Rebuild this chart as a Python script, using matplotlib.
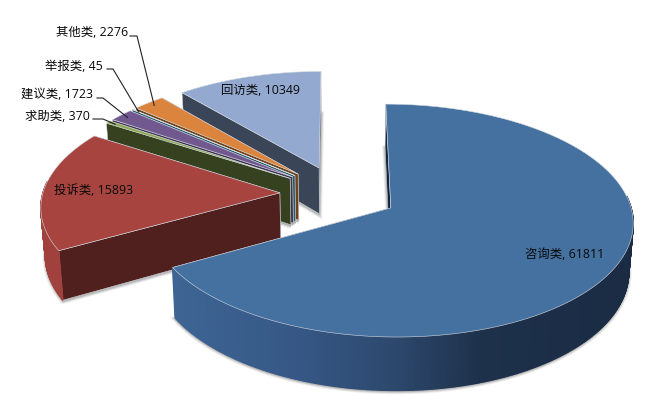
import numpy as np
import matplotlib
matplotlib.use('Agg')
import matplotlib.pyplot as plt
from matplotlib.patches import Polygon
from matplotlib.colors import to_rgb

plt.rcParams['font.family'] = ['Open Sans', 'Noto Sans CJK SC', 'DejaVu Sans']

# data, clockwise from 12 o'clock
categories = ['咨询类', '投诉类', '求助类', '建议类', '举报类', '其他类', '回访类']
values = [61811, 15893, 370, 1723, 45, 2276, 10349]

top_colors = ['#44719F', '#A8443F', '#8BA84F', '#71588F', '#4198AF', '#DB843D', '#93A9CF']
wall_colors = ['#16263C', '#50201E', '#36421F', '#3F3253', '#24586A', '#6F4215', '#3A4557']
rim_colors = ['#2E4A6E', '#A0413D', '#36421F', '#3F3253', '#24586A', '#6F4215', '#3A4557']

# gradient along the blue slice's side
blue_x = [173, 300, 400, 480, 640]
blue_side = ['#3D6594', '#365785', '#2C476B', '#1E314B', '#1A2B43']

# label text: left edge and middle in pixels
label_x = [525, 54, 25, 21, 45, 56, 221]
label_y = [254, 191, 116, 94, 66, 33, 90]
# leader lines only on the small slices: text end -> elbow
leader_start = {2: (93, 120), 3: (97, 99), 4: (107, 70), 5: (130, 37)}
leader_elbow = {2: (103, 120), 3: (103, 99), 4: (113, 70), 5: (137, 37)}

# view settings
CX, CY = 339, 194.6
RX, RY = 237, 112
PERSP = 0.107
DEPTH = 47
EXPLODE = 0.25


def project(X, Y, z=0.0):
    X = np.asarray(X, dtype=float)
    Y = np.asarray(Y, dtype=float)
    s = 1 / (1 + PERSP * Y)
    f = 1 - 0.015 * z
    return CX + RX * X * s * f, CY - RY * Y * s + DEPTH * s * z


def side_color(i, x):
    if i != 0:
        return rim_colors[i]
    rgb = np.array([to_rgb(c) for c in blue_side])
    return tuple(np.interp(x, blue_x, rgb[:, k]) for k in range(3))


fig = plt.figure(figsize=(6.68, 4.10), dpi=100)
ax = fig.add_axes([0, 0, 1, 1])
ax.set_xlim(0, 668)
ax.set_ylim(410, 0)
ax.axis('off')

fractions = np.array(values) / sum(values)
ends = np.cumsum(fractions) * 2 * np.pi
starts = ends - fractions * 2 * np.pi
mids = (starts + ends) / 2

# far slices first, the near ones paint over them
for i in reversed(range(len(values))):
    ox = EXPLODE * np.sin(mids[i])
    oy = EXPLODE * np.cos(mids[i])
    t = np.linspace(starts[i], ends[i], max(int(fractions[i] * 720), 2) + 1)
    X = ox + np.sin(t)
    Y = oy + np.cos(t)

    xt, yt = project(X, Y, 0)
    xb, yb = project(X, Y, 1)
    px_t, py_t = project(ox, oy, 0)
    px_b, py_b = project(ox, oy, 1)

    # soft shadow around the bottom plane
    bottom = np.column_stack([np.r_[px_b, xb], np.r_[py_b, yb] + 1])
    for lw, alpha in [(4.0, 0.10), (2.5, 0.16), (1.2, 0.22)]:
        ax.add_patch(Polygon(bottom, closed=True, fc='none', ec='#555555', lw=lw, alpha=alpha))

    # radial walls, the closing one first so the opening one lands on top
    for k in (-1, 0):
        wall = [(px_t, py_t), (xt[k], yt[k]), (xb[k], yb[k]), (px_b, py_b)]
        ax.add_patch(Polygon(wall, closed=True, fc=wall_colors[i], ec='#C9CDD2', lw=0.4))

    # outer rim, only the part turned to the viewer
    for j in range(len(t) - 1):
        if np.cos((t[j] + t[j + 1]) / 2) > 0.1:
            continue
        c = side_color(i, (xt[j] + xt[j + 1]) / 2)
        quad = [(xt[j], yt[j]), (xt[j + 1], yt[j + 1]), (xb[j + 1], yb[j + 1]), (xb[j], yb[j])]
        ax.add_patch(Polygon(quad, closed=True, fc=c, ec=c, lw=1.0))

    # top face
    top = np.column_stack([np.r_[px_t, xt], np.r_[py_t, yt]])
    ax.add_patch(Polygon(top, closed=True, fc=top_colors[i], ec='#D5DAE2', lw=0.4))

# leaders, ending just inside the slice rim
for i in leader_start:
    ox = EXPLODE * np.sin(mids[i])
    oy = EXPLODE * np.cos(mids[i])
    ex, ey = project(ox + 0.96 * np.sin(mids[i]), oy + 0.96 * np.cos(mids[i]))
    ax.plot([leader_start[i][0], leader_elbow[i][0], ex],
            [leader_start[i][1], leader_elbow[i][1], ey],
            color='#222222', lw=0.8, solid_joinstyle='miter')

for i, name in enumerate(categories):
    ax.text(label_x[i], label_y[i], '{}, {}'.format(name, values[i]), fontsize=8.9,
            color='#0A0A0A', ha='left', va='center')

fig.savefig('out.png', dpi=100)
